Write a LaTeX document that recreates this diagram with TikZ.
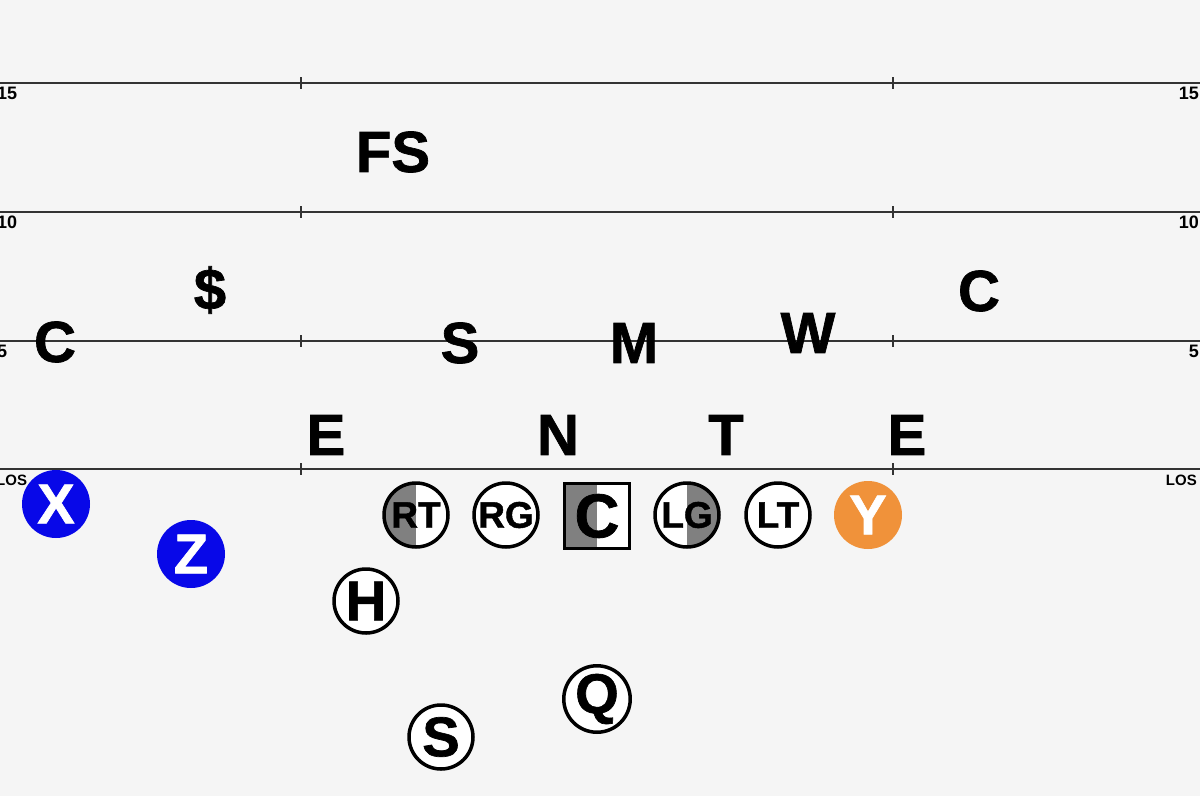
\documentclass[tikz,border=0pt]{standalone}
\usepackage{fontspec}
\setmainfont{Liberation Sans}
\newfontfamily\heavyfont{Liberation Sans Bold}[FakeBold=1.2]
\usetikzlibrary{positioning}
\definecolor{field}{RGB}{245,245,245}
\definecolor{offblue}{RGB}{8,8,232}
\definecolor{yorange}{RGB}{240,146,58}
\tikzset{
	defender/.style={font=\fontsize{58}{58}\selectfont\heavyfont, inner sep=0pt},
	player/.style={
		circle,
		draw,
		line width=3.5pt,
		fill=white,
		minimum size=64pt,
		inner sep=0pt,
		font=\fontsize{56}{56}\selectfont\heavyfont
	},
	lineman/.style={player, font=\fontsize{37}{37}\selectfont\heavyfont},
	lefthalf/.style={path picture={\fill[gray] (path picture bounding box.south west) rectangle (path picture bounding box.north);}},
	righthalf/.style={path picture={\fill[gray] (path picture bounding box.south) rectangle (path picture bounding box.north east);}},
	receiver/.style={circle, fill=#1, text=white, minimum size=68pt, inner sep=0pt, font=\fontsize{56}{56}\selectfont\heavyfont},
	yardnum/.style={font=\fontsize{18}{18}\selectfont\bfseries, inner sep=0pt},
	yardline/.style={draw=black!80, line width=1.5pt}
}

\begin{document}
\begin{tikzpicture}[x=1pt, y=-1pt]
	\fill[field] (0,0) rectangle (1200,796);
	\useasboundingbox (0,0) rectangle (1200,796);
	% yard lines
	\foreach \yy/\num in {83/15, 212/10, 341/5} {
		\draw[yardline] (0,\yy) -- (1200,\yy);
		\draw[yardline] (301,\yy-6) -- (301,\yy+6) (893,\yy-6) -- (893,\yy+6);
		\node[yardnum, anchor=north west] (l\num) at (-3,\yy+4) {\num};
		\node[yardnum, anchor=north east] (r\num) at (1199,\yy+4) {\num};
	}
	\draw[yardline] (0,469) -- (1200,469);
	\draw[yardline] (301,463) -- (301,475) (893,463) -- (893,475);
	\node[yardnum, font=\fontsize{15}{15}\selectfont\bfseries, anchor=north west] (llos) at (-4,475) {LOS};
	\node[yardnum, font=\fontsize{15}{15}\selectfont\bfseries, anchor=north east] (rlos) at (1197,475) {LOS};
	% defense
	\node[defender] (fs) at (393,152) {FS};
	\node[defender] (dollar) at (210,290) {\$};
	\node[defender] (lc) at (55,342) {C};
	\node[defender] (ss) at (460,343) {S};
	\node[defender] (mike) at (634,343) {M};
	\node[defender] (will) at (808,333) {W};
	\node[defender] (rc) at (979,291) {C};
	\node[defender] (le) at (326,435) {E};
	\node[defender] (nose) at (558,435) {N};
	\node[defender] (tackle) at (726,435) {T};
	\node[defender] (re) at (907,435) {E};
	% offense
	\node[receiver=offblue] (x) at (56,504) {X};
	\node[receiver=offblue] (z) at (191,554) {Z};
	\node[lineman, lefthalf] (rt) at (416,515) {RT};
	\node[lineman] (rg) at (506,515) {RG};
	\node[player, rectangle, lefthalf, minimum size=65pt, font=\fontsize{62}{62}\selectfont\heavyfont] (c) at (597,516) {C};
	\node[lineman, righthalf] (lg) at (687,515) {LG};
	\node[lineman] (lt) at (778,515) {LT};
	\node[receiver=yorange] (y) at (868,515) {Y};
	\node[player] (h) at (366,601) {H};
	\node[player] (q) at (597,699) {Q};
	\node[player] (s) at (441,737) {S};
\end{tikzpicture}
\end{document}
